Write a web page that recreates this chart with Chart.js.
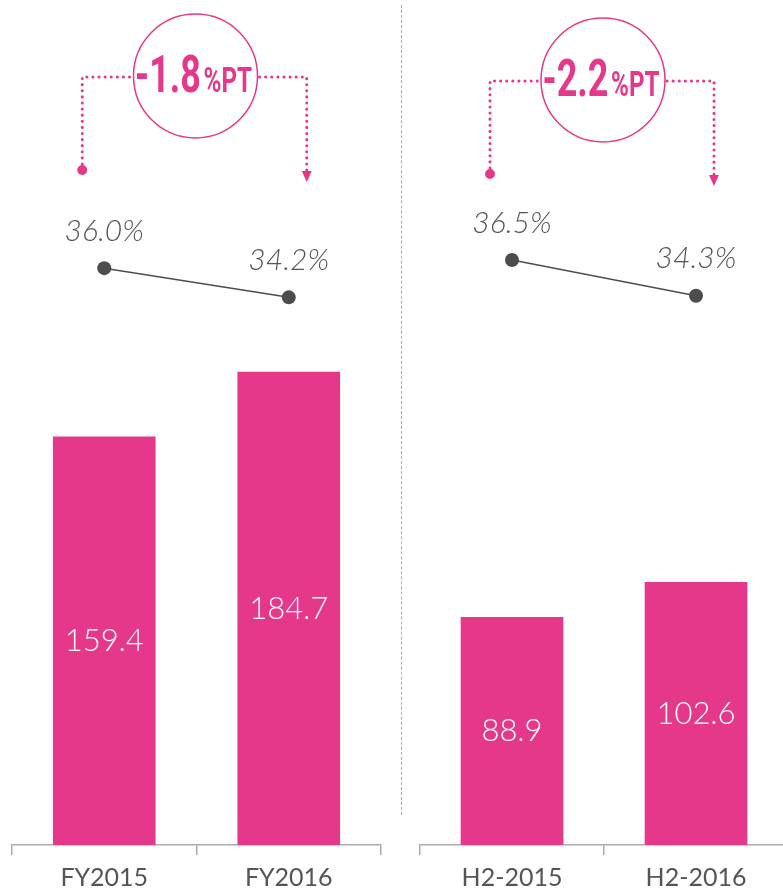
<!DOCTYPE html>
<html>
<head>
<meta charset="utf-8">
<script src="https://cdn.jsdelivr.net/npm/chart.js@4.4.1/dist/chart.umd.min.js"></script>
<style>
  html, body { margin: 0; padding: 0; background: #fff; }
  #wrap { position: relative; width: 783px; height: 891px; overflow: hidden; }
  #fyChart { position: absolute; left: 0; top: 0; }
  #h2Chart { position: absolute; left: 410px; top: 0; }
  #divider { position: absolute; left: 401px; top: 5px; height: 810px; border-left: 1px dashed #aaa; }
</style>
</head>
<body>
<div id="wrap">
  <canvas id="fyChart" width="392" height="891"></canvas>
  <div id="divider"></div>
  <canvas id="h2Chart" width="380" height="891"></canvas>
</div>
<script>
const fyLabels = ['FY2015', 'FY2016'];
const fyRevenue = [159.4, 184.7];
const fyMargin = [36.0, 34.2];

const h2Labels = ['H2-2015', 'H2-2016'];
const h2Revenue = [88.9, 102.6];
const h2Margin = [36.5, 34.3];

const changeLabels = ['-1.8', '-2.2'];

const PINK = '#e5388a';
const DARK = '#4d4d4d';

// draws bar values, margin labels and the pink "%PT" bubble
const overlayPlugin = {
  id: 'overlay',
  afterDatasetsDraw(chart, args, opts) {
    const ctx = chart.ctx;
    const bars = chart.getDatasetMeta(0).data;
    const pts = chart.getDatasetMeta(1).data;
    const ds = chart.data.datasets;
    ctx.save();

    ctx.textAlign = 'center';
    ctx.textBaseline = 'middle';
    ctx.fillStyle = '#fff';
    ctx.font = '300 31px Lato';
    bars.forEach((bar, i) => {
      ctx.fillText(ds[0].data[i].toFixed(1), bar.x, (bar.y + bar.base) / 2);
    });

    ctx.fillStyle = '#555';
    ctx.font = 'italic 300 30px Lato';
    pts.forEach((pt, i) => {
      ctx.fillText(ds[1].data[i].toFixed(1) + '%', pt.x, pt.y - 37);
    });

    // bubble
    const cx = (pts[0].x + pts[1].x) / 2 - 1;
    const cy = opts.cy;
    const r = 62;
    ctx.strokeStyle = PINK;
    ctx.lineWidth = 1.5;
    ctx.beginPath();
    ctx.arc(cx, cy, r, 0, Math.PI * 2);
    ctx.stroke();

    const lineY = cy + 1;
    const x0 = pts[0].x - 22;
    const x1 = pts[1].x + 18;
    const dotY = cy + 94;
    const tipY = cy + 106;
    ctx.lineWidth = 3;
    ctx.lineCap = 'round';
    ctx.setLineDash([0.1, 6]);
    ctx.beginPath();
    ctx.moveTo(x0, dotY - 6);
    ctx.lineTo(x0, lineY);
    ctx.lineTo(cx - r - 2, lineY);
    ctx.moveTo(cx + r + 2, lineY);
    ctx.lineTo(x1, lineY);
    ctx.lineTo(x1, tipY - 10);
    ctx.stroke();
    ctx.setLineDash([]);

    ctx.fillStyle = PINK;
    ctx.beginPath();
    ctx.arc(x0, dotY, 5, 0, Math.PI * 2);
    ctx.fill();
    ctx.beginPath();
    ctx.moveTo(x1 - 5, tipY - 11);
    ctx.lineTo(x1 + 5, tipY - 11);
    ctx.lineTo(x1, tipY);
    ctx.closePath();
    ctx.fill();

    // text "-1.8" + "%PT", squeezed to look condensed
    const big = 'bold 52px Roboto';
    const small = 'bold 35px Roboto';
    ctx.font = big;
    const w1 = ctx.measureText(opts.change).width;
    ctx.font = small;
    const w2 = ctx.measureText('%PT').width;
    const gap = 4;
    const sx = 117 / (w1 + w2 + gap);
    ctx.translate(cx - 2 - 117 / 2, cy + 16);
    ctx.scale(sx, 1);
    ctx.textAlign = 'left';
    ctx.textBaseline = 'alphabetic';
    ctx.font = big;
    ctx.fillText(opts.change, 0, 0);
    ctx.font = small;
    ctx.fillText('%PT', w1 + gap, 0);
    ctx.restore();
  }
};

function makeChart(id, labels, revenue, margin, change, cy, pad) {
  return new Chart(document.getElementById(id), {
    type: 'bar',
    data: {
      labels: labels,
      datasets: [{
        type: 'bar',
        data: revenue,
        backgroundColor: PINK,
        barThickness: 102,
        yAxisID: 'y',
        order: 2
      }, {
        type: 'line',
        data: margin,
        borderColor: DARK,
        borderWidth: 1.5,
        pointRadius: 7,
        pointBackgroundColor: DARK,
        pointBorderWidth: 0,
        yAxisID: 'y2',
        order: 1
      }]
    },
    options: {
      responsive: false,
      animation: false,
      devicePixelRatio: 1,
      layout: { padding: pad, autoPadding: false },
      plugins: {
        legend: { display: false },
        tooltip: { enabled: false },
        overlay: { change: change, cy: cy }
      },
      scales: {
        x: {
          offset: true,
          grid: {
            display: true,
            offset: true,
            drawOnChartArea: false,
            color: '#aaa',
            lineWidth: 1.5,
            tickLength: 10
          },
          border: { color: '#aaa', width: 1.5 },
          ticks: {
            color: '#555',
            padding: 8,
            font: { family: 'Lato', size: 25 }
          },
          afterFit: (scale) => { scale.height = 46; }
        },
        y: { display: false, min: 0, max: 330 },
        y2: { display: false, min: 0.4, max: 52.55 }
      }
    },
    plugins: [overlayPlugin]
  });
}

makeChart('fyChart', fyLabels, fyRevenue, fyMargin, changeLabels[0], 76,
  { left: 12, right: 11, top: 0, bottom: 0 });
makeChart('h2Chart', h2Labels, h2Revenue, h2Margin, changeLabels[1], 80,
  { left: 10, right: 2, top: 0, bottom: 0 });
</script>
</body>
</html>
